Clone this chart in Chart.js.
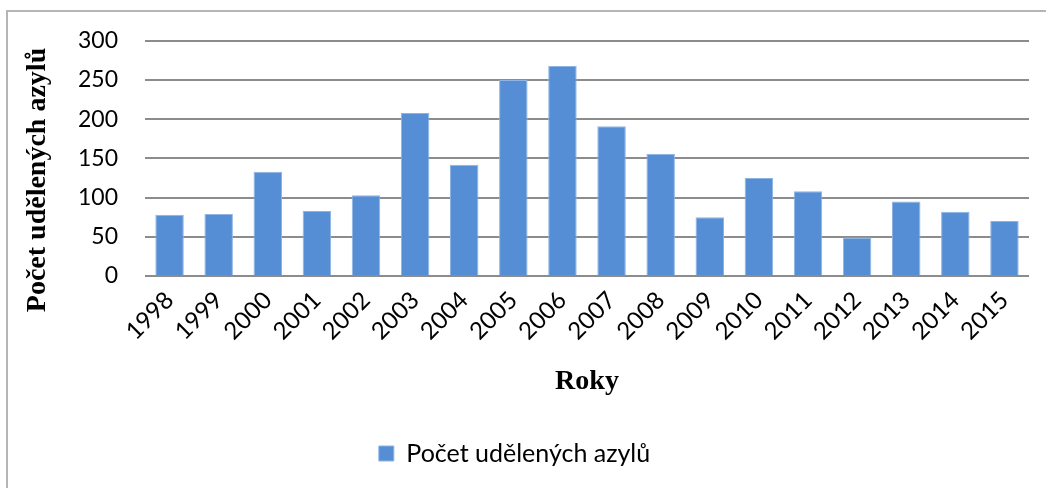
<!DOCTYPE html>
<html>
<head>
<meta charset="utf-8">
<script src="https://cdn.jsdelivr.net/npm/chart.js@4.4.1/dist/chart.umd.min.js"></script>
<style>
  html, body { margin: 0; padding: 0; background: #ffffff; }
  #wrap { position: relative; width: 1046px; height: 488px; overflow: hidden; }
  #frame { position: absolute; left: 6px; top: 10px; width: 1100px; height: 600px; border-left: 2px solid #b5b5b5; border-top: 2px solid #b5b5b5; box-sizing: border-box; pointer-events: none; }
  canvas { position: absolute; left: 0; top: 0; }
</style>
</head>
<body>
<div id="wrap">
  <canvas id="c" width="1046" height="488"></canvas>
  <div id="frame"></div>
</div>
<script>
const categories = ['1998','1999','2000','2001','2002','2003','2004','2005','2006','2007','2008','2009','2010','2011','2012','2013','2014','2015'];
const seriesName = 'Počet udělených azylů';
const values = [78, 79, 133, 83, 103, 208, 142, 250, 268, 191, 156, 75, 125, 108, 49, 95, 82, 70];
const yTicks = [0, 50, 100, 150, 200, 250, 300];
const xTitle = 'Roky';
const yTitle = 'Počet udělených azylů';

const yTitlePlugin = {
  id: 'yTitlePlugin',
  afterDraw(chart) {
    const ctx = chart.ctx;
    ctx.save();
    ctx.translate(38, 180);
    ctx.rotate(-Math.PI / 2);
    ctx.font = 'bold 28px "Liberation Serif"';
    ctx.fillStyle = '#000000';
    ctx.textAlign = 'center';
    ctx.textBaseline = 'middle';
    ctx.fillText(yTitle, 0, 0);
    ctx.restore();
  }
};

new Chart(document.getElementById('c'), {
  type: 'bar',
  data: {
    labels: categories,
    datasets: [{
      label: seriesName,
      data: values,
      backgroundColor: '#558ed5',
      borderColor: '#8fb3e3',
      borderWidth: 1,
      categoryPercentage: 1.0,
      barPercentage: 0.58
    }]
  },
  plugins: [yTitlePlugin],
  options: {
    responsive: false,
    animation: false,
    devicePixelRatio: 1,
    layout: { padding: { top: 40, right: 17, bottom: 12, left: 0 } },
    plugins: {
      legend: {
        position: 'bottom',
        labels: {
          font: { family: 'Lato', size: 25 },
          color: '#000000',
          boxWidth: 15,
          boxHeight: 15,
          padding: 8
        }
      },
      tooltip: { enabled: false }
    },
    scales: {
      x: {
        grid: { display: false, drawTicks: false },
        border: { display: false },
        ticks: {
          font: { family: 'Lato', size: 24 },
          color: '#000000',
          minRotation: 45,
          maxRotation: 45,
          padding: 10,
          autoSkip: false
        },
        title: {
          display: true,
          text: xTitle,
          font: { family: 'Liberation Serif', size: 28, weight: 'bold' },
          color: '#000000',
          padding: { top: 0, bottom: 34 }
        },
        afterFit: (s) => { s.height = 157; }
      },
      y: {
        min: 0,
        max: 300,
        afterBuildTicks: (s) => { s.ticks = yTicks.map(v => ({ value: v })); },
        grid: { color: '#8c8c8c', lineWidth: 2, drawTicks: false },
        border: { display: false },
        ticks: {
          font: { family: 'Lato', size: 23 },
          color: '#000000',
          padding: 27
        },
        title: { display: false },
        afterFit: (s) => { s.width = 145; }
      }
    }
  }
});
</script>
</body>
</html>
